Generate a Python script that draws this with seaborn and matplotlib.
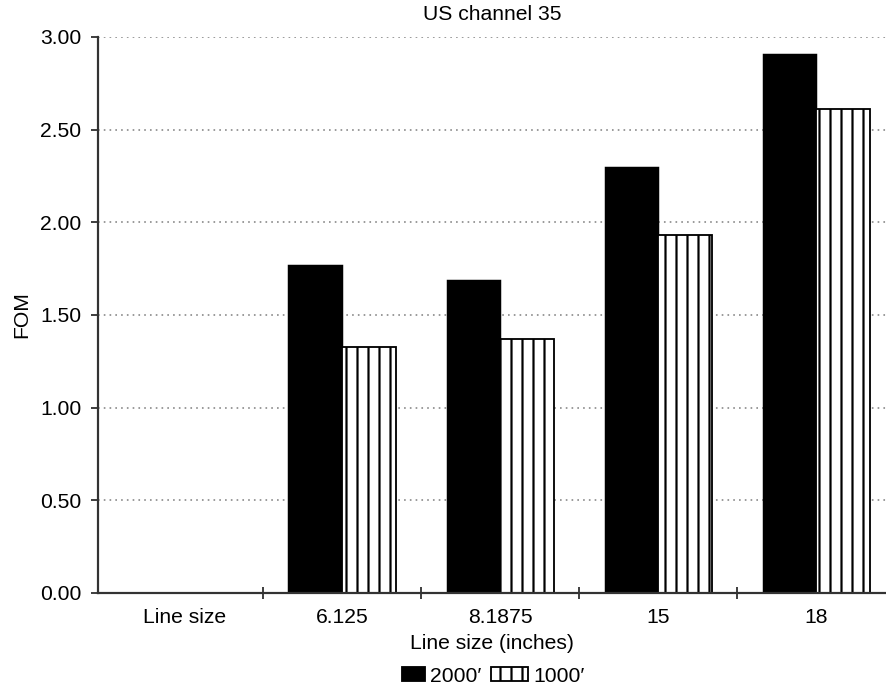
import numpy as np
import pandas as pd
import matplotlib
matplotlib.use("Agg")
import matplotlib.pyplot as plt
from matplotlib.patches import Patch, Rectangle
from matplotlib.legend_handler import HandlerPatch
import seaborn as sns

categories = ["Line size", "6.125", "8.1875", "15", "18"]
fom_2000 = [np.nan, 1.77, 1.69, 2.30, 2.91]
fom_1000 = [np.nan, 1.33, 1.37, 1.93, 2.61]
series_names = ["2000\u2032", "1000\u2032"]
y_ticks = [0.0, 0.5, 1.0, 1.5, 2.0, 2.5, 3.0]

df = pd.DataFrame({
    "Line size": categories * 2,
    "FOM": fom_2000 + fom_1000,
    "series": [series_names[0]] * len(categories) + [series_names[1]] * len(categories),
})

sns.set_style("ticks", {"text.color": "black", "axes.labelcolor": "black",
                        "xtick.color": "black", "ytick.color": "black"})
plt.rcParams["font.family"] = ["Liberation Sans", "DejaVu Sans"]
plt.rcParams["hatch.linewidth"] = 1.2
plt.rcParams["hatch.color"] = "black"

dpi = 132
fig = plt.figure(figsize=(886 / dpi, 690 / dpi), dpi=dpi)
ax = fig.add_axes([98 / 886, 97 / 690, 788 / 886, 556 / 690])

sns.barplot(
    data=df, x="Line size", y="FOM", hue="series",
    order=categories, hue_order=series_names,
    palette=["black", "white"], width=0.68, gap=0,
    edgecolor="black", linewidth=0.8, saturation=1,
    legend=False, ax=ax,
)

# vertical stripes on the 1000' bars
for bar in ax.containers[1]:
    bar.set_hatch("||")
    bar.set_edgecolor("black")
    bar.set_linewidth(1.0)

ax.set_ylim(0, 3.0)
ax.set_xlim(-0.545, 4.44)
ax.set_yticks(y_ticks)
ax.set_yticklabels([f"{v:.2f}" for v in y_ticks], fontsize=11.5)
ax.set_xticks(range(len(categories)))
ax.set_xticklabels(categories, fontsize=11.5)
ax.tick_params(axis="x", which="major", length=0, pad=8)
ax.set_xticks([0.5, 1.5, 2.5, 3.5], minor=True)
ax.tick_params(axis="x", which="minor", direction="inout", length=7, width=1, color="#333333")
ax.tick_params(axis="y", direction="out", length=4, width=1, color="#333333", pad=5)

ax.yaxis.grid(True, linestyle=(0, (1, 2.5)), color="#888888", linewidth=0.9)
ax.set_axisbelow(True)
sns.despine(ax=ax, top=True, right=True)
for side in ["left", "bottom"]:
    ax.spines[side].set_color("#333333")
    ax.spines[side].set_linewidth(1.2)

ax.set_title("US channel 35", fontsize=11.5, pad=9)
ax.set_xlabel("Line size (inches)", fontsize=11.5, labelpad=4)
ax.set_ylabel("FOM", fontsize=11.5, labelpad=5)


# small black square for 2000', wider striped box for 1000'
def square_handle(legend, orig_handle, xdescent, ydescent, width, height, fontsize):
    w = width * 23 / 37
    return Rectangle((-xdescent + width - w, -ydescent), w, height)


handles = [
    Patch(facecolor="black", edgecolor="black", label=series_names[0]),
    Patch(facecolor="white", edgecolor="black", hatch="||", linewidth=1.0, label=series_names[1]),
]
fig.legend(
    handles=handles, loc="center", bbox_to_anchor=(486 / 886, 1 - 676 / 690),
    ncol=2, frameon=False, fontsize=11.5, handlelength=1.76, handleheight=0.65,
    handletextpad=0.25, columnspacing=0.45,
    handler_map={handles[0]: HandlerPatch(patch_func=square_handle)},
)

fig.savefig("out.png", dpi=dpi)
